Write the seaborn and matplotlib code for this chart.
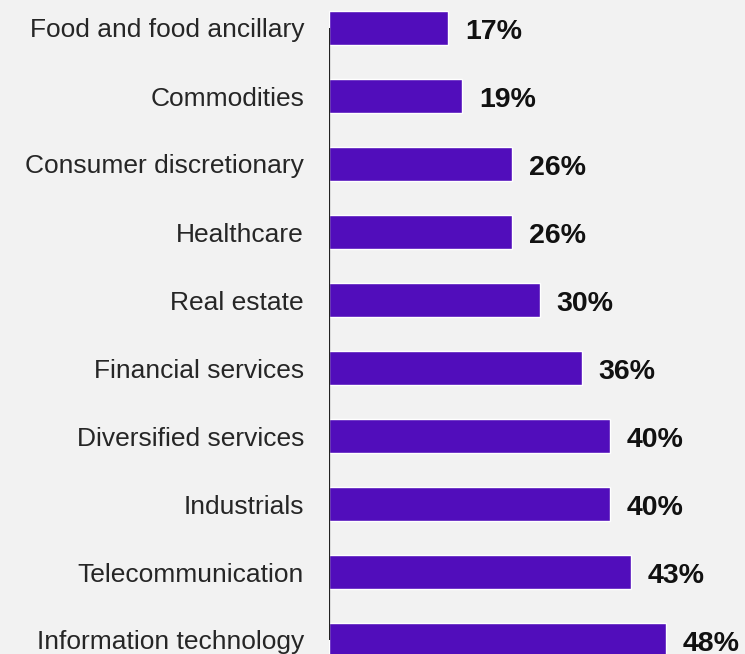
import matplotlib
matplotlib.use("Agg")
import matplotlib.pyplot as plt
import seaborn as sns
import pandas as pd

sectors = [
    "Food and food ancillary",
    "Commodities",
    "Consumer discretionary",
    "Healthcare",
    "Real estate",
    "Financial services",
    "Diversified services",
    "Industrials",
    "Telecommunication",
    "Information technology",
]
shares = [17, 19, 26, 26, 30, 36, 40, 40, 43, 48]
value_labels = ["17%", "19%", "26%", "26%", "30%", "36%", "40%", "40%", "43%", "48%"]

df = pd.DataFrame({"sector": sectors, "share": shares})

sns.set_theme(style="white")
plt.rcParams["font.family"] = ["Liberation Sans", "DejaVu Sans"]

BG = "#F2F2F2"
BAR = "#510DBB"

fig = plt.figure(figsize=(7.45, 6.54), dpi=100, facecolor=BG)
ax = fig.add_axes([329 / 745, 0, 1 - 329 / 745, 1])
ax.set_facecolor(BG)

sns.barplot(data=df, x="share", y="sector", color=BAR, saturation=1,
            width=0.5, ax=ax, order=sectors)

ax.set_xlim(0, 416 / 7.02)
ax.set_ylim(626 / 68, -28 / 68)

for i, (v, lab) in enumerate(zip(shares, value_labels)):
    ax.text(v + 17 / 7.02, i + 0.155, lab, ha="left", va="baseline",
            fontsize=20.5, fontweight="bold", color="#111111")

# baseline from first to last category
ax.vlines(0, 0, len(sectors) - 1, color="#222222", lw=1.6, zorder=3)

for s in ax.spines.values():
    s.set_visible(False)
ax.set_xlabel("")
ax.set_ylabel("")
ax.set_xticks([])
ax.tick_params(axis="y", length=0, pad=18, labelsize=19, labelcolor="#262626")

fig.savefig("out.png", dpi=100, facecolor=BG)
